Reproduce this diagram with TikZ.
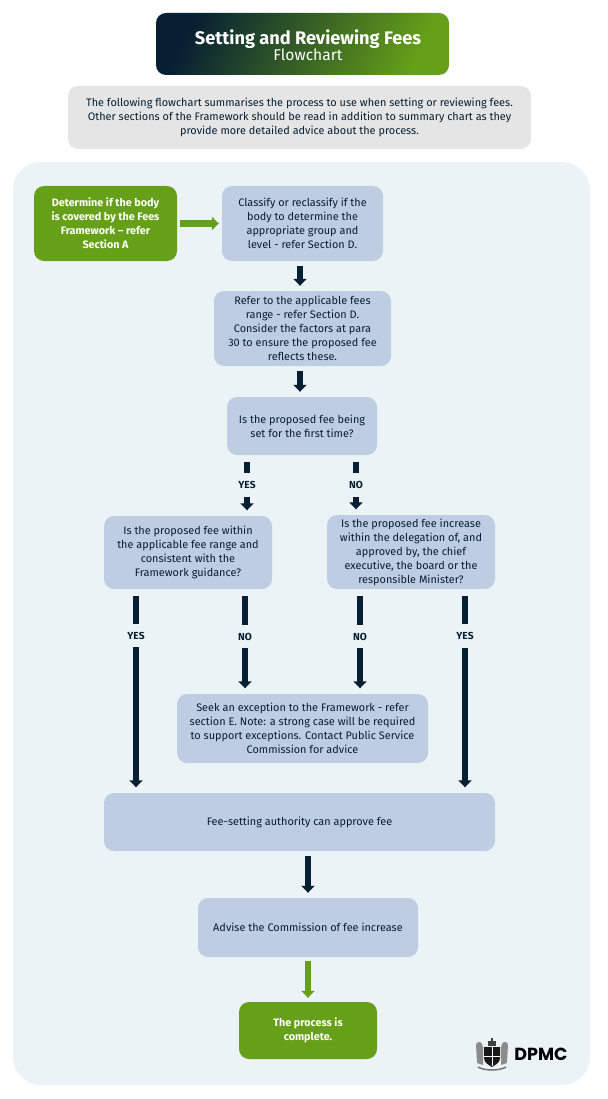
\documentclass[tikz,border=0pt]{standalone}
\usepackage{fontspec}
\setmainfont{Fira Sans}
\newfontfamily\logofont{Poppins}
\usepackage{xcolor}
\usetikzlibrary{arrows.meta, calc}
\definecolor{fcnavy}{RGB}{6,31,51}
\definecolor{fcgreen}{RGB}{101,160,24}
\definecolor{fcblue}{RGB}{191,205,226}
\definecolor{fcpanel}{RGB}{235,243,247}
\definecolor{fcgrey}{RGB}{229,229,229}
\tikzset{
  flowbox/.style={rounded corners=10pt, align=center, inner sep=0pt, text=fcnavy,
    font=\fontsize{10.9}{14}\selectfont},
  bluebox/.style={flowbox, fill=fcblue},
  greenbox/.style={flowbox, fill=fcgreen, text=white, font=\fontsize{10.8}{14}\selectfont\bfseries},
  lbl/.style={inner sep=0pt, minimum height=23pt, text=fcnavy, font=\fontsize{10.2}{11}\selectfont\bfseries},
  stem/.style={line width=6.5pt, fcnavy},
  link/.style={stem, -{Triangle[length=7pt,width=13pt]}},
  greenlink/.style={link, fcgreen}
}
\begin{document}
\begin{tikzpicture}[x=1pt,y=-1pt]
\useasboundingbox (0,0) rectangle (607,1099);
% Heading
\node[rounded corners=10pt, minimum width=293pt, minimum height=62pt, inner sep=0pt,
  left color=fcnavy, right color=fcgreen, shading angle=65] (titlebox) at (302.5,44) {};
\node[align=center, text=white, inner sep=0pt] (titletext) at (308,45)
  {{\fontsize{18.2}{21}\selectfont\bfseries Setting and Reviewing Fees}\\[-1pt]{\fontsize{15.6}{18}\selectfont Flowchart}};
\node[flowbox, fill=fcgrey, minimum width=463pt, minimum height=63pt] (intro) at (299.5,117.5)
  {The following flowchart summarises the process to use when setting or reviewing fees.\\
   Other sections of the Framework should be read in addition to summary chart as they\\
   provide more detailed advice about the process.};
% Panel
\node[fill=fcpanel, rounded corners=28pt, minimum width=577pt, minimum height=923pt, inner sep=0pt] (panel) at (301.5,623.5) {};

% Boxes
\node[greenbox, minimum width=143pt, minimum height=75pt] (start) at (105.5,223.5)
  {Determine if the body\\is covered by the Fees\\Framework -- refer\\Section A};
\node[bluebox, minimum width=161pt, minimum height=75pt] (classify) at (302.5,223.5)
  {Classify or reclassify if the\\body to determine the\\appropriate group and\\level - refer Section D.};
\node[bluebox, minimum width=177pt, minimum height=75pt] (range) at (302.5,328.5)
  {Refer to the applicable fees\\range - refer Section D.\\Consider the factors at para\\30 to ensure the proposed fee\\reflects these.};
\node[bluebox, minimum width=150pt, minimum height=58pt] (first) at (302,426)
  {Is the proposed fee being\\set for the first time?};
\node[bluebox, minimum width=168pt, minimum height=73pt] (qleft) at (188,552.5)
  {Is the proposed fee within\\the applicable fee range and\\consistent with the\\Framework guidance?};
\node[bluebox, minimum width=168pt, minimum height=74pt] (qright) at (411,552)
  {Is the proposed fee increase\\within the delegation of, and\\approved by, the chief\\executive, the board or the\\responsible Minister?};
\node[bluebox, minimum width=251pt, minimum height=69pt] (except) at (302.5,728.5)
  {Seek an exception to the Framework - refer\\section E. Note: a strong case will be required\\to support exceptions. Contact Public Service\\Commission for advice};
\node[bluebox, minimum width=391pt, minimum height=58pt] (approve) at (299.5,822)
  {Fee-setting authority can approve fee};
\node[bluebox, minimum width=220pt, minimum height=59pt] (advise) at (308,927.5)
  {Advise the Commission of fee increase};
\node[greenbox, minimum width=138pt, minimum height=57pt] (done) at (308,1030.5)
  {The process is\\complete.};

% Labels
\node[lbl] (yesfirst) at (247,485) {YES};
\node[lbl] (nofirst) at (356,485) {NO};
\node[lbl] (yesleft) at (136,635.5) {YES};
\node[lbl] (noleft) at (245,636.5) {NO};
\node[lbl] (noright) at (360,636.5) {NO};
\node[lbl] (yesright) at (465,636) {YES};

% Arrows
\draw[greenlink, shorten <=3pt, shorten >=3pt] (start) -- (start -| classify.west);
\draw[link, shorten <=5pt, shorten >=5pt] (classify.south -| 300,0) -- (range.north -| 300,0);
\draw[link, shorten <=5pt, shorten >=5pt] (range.south -| 300,0) -- (first.north -| 300,0);
\foreach \from/\via/\to in {first/yesfirst/qleft, first/nofirst/qright,
    qleft/yesleft/approve, qleft/noleft/except, qright/noright/except, qright/yesright/approve} {
  \draw[stem, shorten <=6.5pt] (\from.south -| \via) -- (\via);
  \draw[link, shorten >=5.5pt] (\via) -- (\to.north -| \via);
}
\draw[link, shorten <=5pt, shorten >=5pt] (approve.south -| advise) -- (advise);
\draw[greenlink, shorten <=4pt, shorten >=4pt] (advise) -- (done);

% Logo
\node[inner sep=0pt, font=\logofont\fontsize{17.5}{19}\selectfont\bfseries, text=black] (dpmc) at (541,1054) {DPMC};
% supporters
\fill[black!45] (476,1044) .. controls (479,1040) and (482,1042) .. (483,1047) -- (483,1065) -- (477,1063) -- cycle;
\fill[black!45] (508,1044) .. controls (505,1040) and (502,1042) .. (501,1047) -- (501,1065) -- (507,1063) -- cycle;
% shield
\fill[black!90] (484,1047) -- (500,1047) -- (500,1058) .. controls (500,1063) and (495,1065) .. (492,1067)
  .. controls (489,1065) and (484,1063) .. (484,1058) -- cycle;
\draw[white, line width=1pt] (492,1047) -- (492,1066) (484,1056) -- (500,1056);
% crown
\fill[black!75] (488,1041) rectangle (496,1046);
\fill[black!75] (491,1038) rectangle (493,1041);
% scroll
\draw[black!55, line width=1.5pt] (478,1067) .. controls (485,1071) and (499,1071) .. (506,1067);
\end{tikzpicture}
\end{document}
